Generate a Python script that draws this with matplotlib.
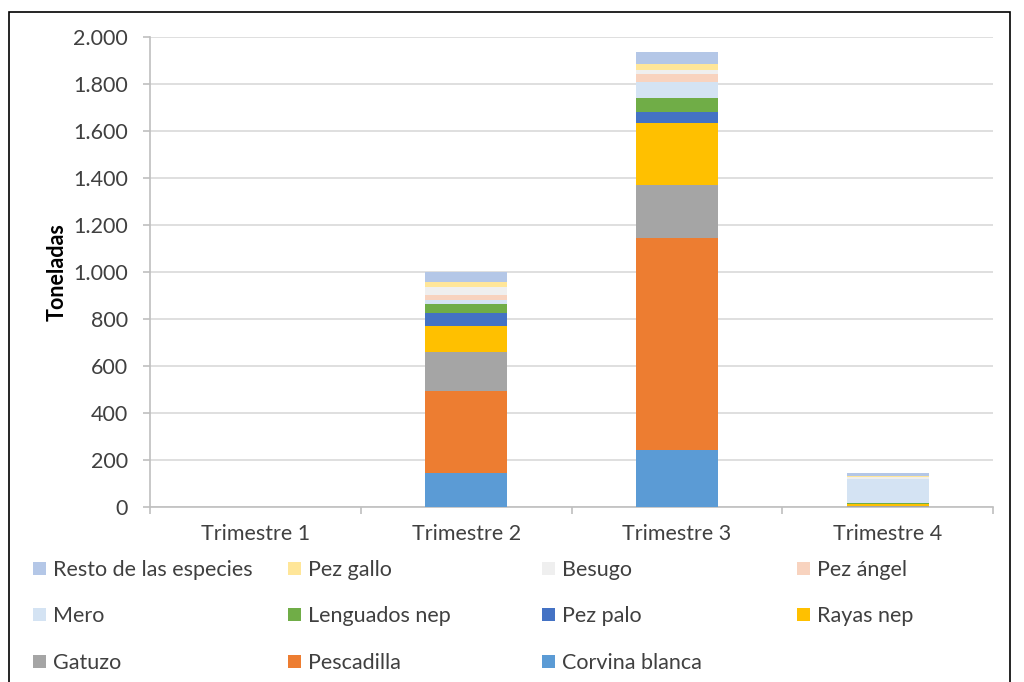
import numpy as np
import matplotlib

matplotlib.use("Agg")
import matplotlib.pyplot as plt
from matplotlib.patches import Rectangle
from matplotlib.ticker import FuncFormatter, FixedLocator

plt.rcParams["font.family"] = ["Lato", "DejaVu Sans"]

quarters = ["Trimestre 1", "Trimestre 2", "Trimestre 3", "Trimestre 4"]

# toneladas por especie y trimestre (de abajo a arriba en la pila)
corvina_blanca = [0, 146, 243, 1]
pescadilla = [0, 346, 900, 1]
gatuzo = [0, 169, 226, 4]
rayas_nep = [0, 110, 265, 5]
pez_palo = [0, 53, 48, 0]
lenguados_nep = [0, 41, 57, 8]
mero = [0, 17, 71, 99]
pez_angel = [0, 20, 31, 2]
besugo = [0, 35, 19, 9]
pez_gallo = [0, 22, 25, 4]
resto = [0, 42, 52, 13]

series = [
    ("Corvina blanca", corvina_blanca, "#5b9bd5"),
    ("Pescadilla", pescadilla, "#ed7d31"),
    ("Gatuzo", gatuzo, "#a5a5a5"),
    ("Rayas nep", rayas_nep, "#ffc000"),
    ("Pez palo", pez_palo, "#4472c4"),
    ("Lenguados nep", lenguados_nep, "#70ad47"),
    ("Mero", mero, "#d4e3f3"),
    ("Pez ángel", pez_angel, "#f8d3bf"),
    ("Besugo", besugo, "#efefef"),
    ("Pez gallo", pez_gallo, "#ffe699"),
    ("Resto de las especies", resto, "#b4c7e7"),
]

FS = 15.5
TXT = "#404040"

fig = plt.figure(figsize=(10.24, 6.82), dpi=100)
W, H = 1024, 682
ax = fig.add_axes([150 / W, 1 - 507 / H, (993 - 150) / W, (507 - 37) / H])

x = np.arange(len(quarters))
bottom = np.zeros(len(quarters))
colors = {}
for name, vals, color in series:
    ax.bar(x, vals, width=0.39, bottom=bottom, color=color, edgecolor="none", zorder=3)
    bottom += np.array(vals)
    colors[name] = color

ax.set_xlim(-0.5, 3.5)
ax.set_ylim(0, 2000)
ax.set_yticks(range(0, 2001, 200))
ax.yaxis.set_major_formatter(
    FuncFormatter(lambda v, p: "{:,.0f}".format(v).replace(",", "."))
)
ax.grid(axis="y", color="#d9d9d9", linewidth=1.2, zorder=0)

# etiquetas centradas, marcas en los límites de categoría
ax.set_xticks(x)
ax.set_xticklabels(quarters)
ax.tick_params(axis="x", length=0, labelsize=FS, colors=TXT, pad=12)
ax.xaxis.set_minor_locator(FixedLocator([-0.5, 0.5, 1.5, 2.5, 3.5]))
ax.tick_params(axis="x", which="minor", length=5, color="#bfbfbf", width=1.2)
ax.tick_params(axis="y", length=5, color="#bfbfbf", width=1.2, labelsize=FS,
               labelcolor=TXT, pad=11)

for side in ["top", "right"]:
    ax.spines[side].set_visible(False)
for side in ["left", "bottom"]:
    ax.spines[side].set_color("#bfbfbf")
    ax.spines[side].set_linewidth(1.2)

ax.set_ylabel("Toneladas", fontsize=FS, fontweight="bold", color="black", labelpad=4)

# leyenda en rejilla fija de 4 columnas
legend_rows = [
    ["Resto de las especies", "Pez gallo", "Besugo", "Pez ángel"],
    ["Mero", "Lenguados nep", "Pez palo", "Rayas nep"],
    ["Gatuzo", "Pescadilla", "Corvina blanca"],
]
col_x = [33, 288, 542, 797]
row_y = [568, 614, 661]
sq = 13
for r, row in enumerate(legend_rows):
    for c, name in enumerate(row):
        x0, yc = col_x[c], row_y[r]
        fig.patches.append(Rectangle((x0 / W, 1 - (yc + sq / 2) / H), sq / W, sq / H,
                                     transform=fig.transFigure,
                                     facecolor=colors[name], edgecolor="none"))
        fig.text((x0 + sq + 7) / W, 1 - yc / H, name, fontsize=FS, color=TXT,
                 ha="left", va="center_baseline")

# marco exterior del gráfico
fig.patches.append(Rectangle((9 / W, -0.01), (1010 - 9) / W, 1 - 12 / H + 0.01,
                             transform=fig.transFigure, fill=False,
                             edgecolor="black", linewidth=1.2))

fig.savefig("out.png", dpi=100, facecolor="white")
